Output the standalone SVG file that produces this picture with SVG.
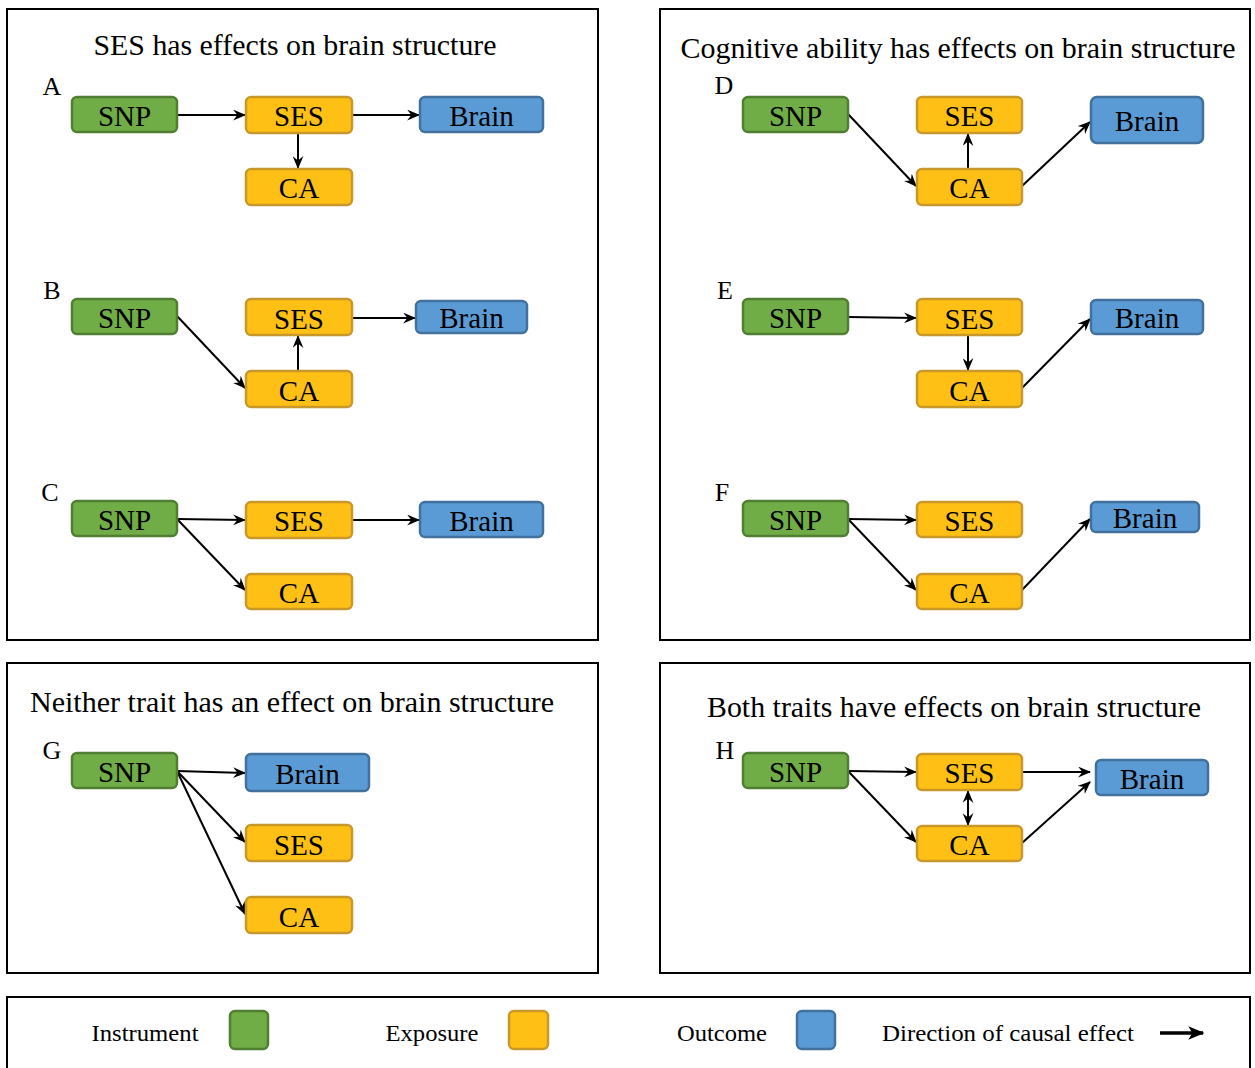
<svg xmlns="http://www.w3.org/2000/svg" width="1255" height="1068" viewBox="0 0 1255 1068">
<style>
text{font-family:"Liberation Serif","Times New Roman",serif;fill:#000}
.panel{fill:#fff;stroke:#000;stroke-width:2}
.n text{font-size:29px;text-anchor:middle;dominant-baseline:central}
.g{fill:#70AD47;stroke:#507E32;stroke-width:2.5}
.y{fill:#FFC015;stroke:#C9982B;stroke-width:2.5}
.b{fill:#5B9BD5;stroke:#41719C;stroke-width:2.5}
.title{font-size:29px;text-anchor:middle}
.lbl{font-size:26px;text-anchor:middle}
.leg{font-size:24px;text-anchor:middle}
.c line{stroke:#000;stroke-width:2;marker-end:url(#ah)}
</style>
<defs>
<marker id="ah" viewBox="0 0 12 10" refX="11" refY="5" markerWidth="13" markerHeight="11" markerUnits="userSpaceOnUse" orient="auto-start-reverse">
<path d="M0,0 L12,5 L0,10 L4,5 Z" fill="#000"/>
</marker>
<marker id="ah2" viewBox="0 0 12 10" refX="11" refY="5" markerWidth="16" markerHeight="15" markerUnits="userSpaceOnUse" orient="auto">
<path d="M0,0 L12,5 L0,10 L3,5 Z" fill="#000"/>
</marker>
</defs>
<rect width="1255" height="1068" fill="#fff"/>
<rect class="panel" x="7" y="9" width="591" height="631"/>
<rect class="panel" x="660" y="9" width="590" height="631"/>
<rect class="panel" x="7" y="663" width="591" height="310"/>
<rect class="panel" x="660" y="663" width="590" height="310"/>
<rect class="panel" x="7" y="997" width="1243" height="80"/>

<text class="title" x="295" y="55" textLength="403" lengthAdjust="spacingAndGlyphs">SES has effects on brain structure</text>
<text class="title" x="958" y="58" textLength="555" lengthAdjust="spacingAndGlyphs">Cognitive ability has effects on brain structure</text>
<text class="title" x="292" y="712" textLength="524" lengthAdjust="spacingAndGlyphs">Neither trait has an effect on brain structure</text>
<text class="title" x="954" y="717" textLength="494" lengthAdjust="spacingAndGlyphs">Both traits have effects on brain structure</text>

<text class="lbl" x="52" y="95">A</text>
<text class="lbl" x="52" y="299">B</text>
<text class="lbl" x="50" y="501">C</text>
<text class="lbl" x="724" y="94">D</text>
<text class="lbl" x="725" y="299">E</text>
<text class="lbl" x="722" y="501">F</text>
<text class="lbl" x="52" y="759">G</text>
<text class="lbl" x="725" y="759">H</text>

<g class="c" id="connectors">
<line x1="177" y1="115" x2="245" y2="115"/>
<line x1="352" y1="115" x2="419" y2="115"/>
<line x1="298" y1="133" x2="298" y2="168"/>
<line x1="177" y1="316" x2="245" y2="388"/>
<line x1="298" y1="371" x2="298" y2="336"/>
<line x1="352" y1="318" x2="415" y2="318"/>
<line x1="177" y1="519" x2="245" y2="520"/>
<line x1="352" y1="520" x2="419" y2="520"/>
<line x1="177" y1="519" x2="245" y2="590"/>
<line x1="848" y1="114" x2="916" y2="186"/>
<line x1="968" y1="169" x2="968" y2="134"/>
<line x1="1022" y1="186" x2="1090" y2="122"/>
<line x1="848" y1="317" x2="916" y2="318"/>
<line x1="968" y1="335" x2="968" y2="370"/>
<line x1="1022" y1="388" x2="1090" y2="319"/>
<line x1="848" y1="519" x2="916" y2="520"/>
<line x1="848" y1="519" x2="916" y2="590"/>
<line x1="1022" y1="590" x2="1090" y2="519"/>
<line x1="177" y1="771" x2="245" y2="773"/>
<line x1="177" y1="771" x2="245" y2="842"/>
<line x1="177" y1="771" x2="245" y2="914"/>
<line x1="848" y1="771" x2="916" y2="772"/>
<line x1="848" y1="771" x2="916" y2="842"/>
<line x1="1022" y1="772" x2="1090" y2="772"/>
<line x1="1022" y1="843" x2="1090" y2="782"/>
<line x1="968" y1="791" x2="968" y2="825" style="marker-start:url(#ah)"/>
<line x1="1160" y1="1033" x2="1203" y2="1033" style="stroke-width:3.5;marker-end:url(#ah2)"/>
</g>

<g class="n" id="A_SNP"><rect class="g" x="72" y="97" width="105" height="35" rx="5"/><text x="124.5" y="116">SNP</text></g>
<g class="n" id="A_SES"><rect class="y" x="246" y="97" width="106" height="36" rx="5"/><text x="299" y="116">SES</text></g>
<g class="n" id="A_Brain"><rect class="b" x="420" y="97" width="123" height="35" rx="5"/><text x="481.5" y="116">Brain</text></g>
<g class="n" id="A_CA"><rect class="y" x="246" y="169" width="106" height="36" rx="5"/><text x="299" y="188">CA</text></g>

<g class="n" id="B_SNP"><rect class="g" x="72" y="299" width="105" height="35" rx="5"/><text x="124.5" y="318">SNP</text></g>
<g class="n" id="B_SES"><rect class="y" x="246" y="299" width="106" height="36" rx="5"/><text x="299" y="319">SES</text></g>
<g class="n" id="B_Brain"><rect class="b" x="416" y="301" width="111" height="32" rx="5"/><text x="471.5" y="318">Brain</text></g>
<g class="n" id="B_CA"><rect class="y" x="246" y="371" width="106" height="36" rx="5"/><text x="299" y="391">CA</text></g>

<g class="n" id="C_SNP"><rect class="g" x="72" y="501" width="105" height="35" rx="5"/><text x="124.5" y="520">SNP</text></g>
<g class="n" id="C_SES"><rect class="y" x="246" y="502" width="106" height="36" rx="5"/><text x="299" y="521">SES</text></g>
<g class="n" id="C_Brain"><rect class="b" x="420" y="502" width="123" height="35" rx="5"/><text x="481.5" y="521">Brain</text></g>
<g class="n" id="C_CA"><rect class="y" x="246" y="574" width="106" height="35" rx="5"/><text x="299" y="593">CA</text></g>

<g class="n" id="D_SNP"><rect class="g" x="743" y="97" width="105" height="35" rx="5"/><text x="795.5" y="116">SNP</text></g>
<g class="n" id="D_SES"><rect class="y" x="917" y="97" width="105" height="36" rx="5"/><text x="969.5" y="116">SES</text></g>
<g class="n" id="D_Brain"><rect class="b" x="1091" y="97" width="112" height="46" rx="6"/><text x="1147" y="121">Brain</text></g>
<g class="n" id="D_CA"><rect class="y" x="917" y="169" width="105" height="36" rx="5"/><text x="969.5" y="188">CA</text></g>

<g class="n" id="E_SNP"><rect class="g" x="743" y="299" width="105" height="35" rx="5"/><text x="795.5" y="318">SNP</text></g>
<g class="n" id="E_SES"><rect class="y" x="917" y="299" width="105" height="36" rx="5"/><text x="969.5" y="319">SES</text></g>
<g class="n" id="E_Brain"><rect class="b" x="1091" y="300" width="112" height="34" rx="5"/><text x="1147" y="318">Brain</text></g>
<g class="n" id="E_CA"><rect class="y" x="917" y="371" width="105" height="36" rx="5"/><text x="969.5" y="391">CA</text></g>

<g class="n" id="F_SNP"><rect class="g" x="743" y="501" width="105" height="35" rx="5"/><text x="795.5" y="520">SNP</text></g>
<g class="n" id="F_SES"><rect class="y" x="917" y="502" width="105" height="35" rx="5"/><text x="969.5" y="521">SES</text></g>
<g class="n" id="F_Brain"><rect class="b" x="1091" y="502" width="108" height="30" rx="5"/><text x="1145" y="518">Brain</text></g>
<g class="n" id="F_CA"><rect class="y" x="917" y="574" width="105" height="35" rx="5"/><text x="969.5" y="593">CA</text></g>

<g class="n" id="G_SNP"><rect class="g" x="72" y="753" width="105" height="35" rx="5"/><text x="124.5" y="772">SNP</text></g>
<g class="n" id="G_Brain"><rect class="b" x="246" y="754" width="123" height="37" rx="5"/><text x="307.5" y="774">Brain</text></g>
<g class="n" id="G_SES"><rect class="y" x="246" y="825" width="106" height="36" rx="5"/><text x="299" y="845">SES</text></g>
<g class="n" id="G_CA"><rect class="y" x="246" y="897" width="106" height="36" rx="5"/><text x="299" y="917">CA</text></g>

<g class="n" id="H_SNP"><rect class="g" x="743" y="753" width="105" height="35" rx="5"/><text x="795.5" y="772">SNP</text></g>
<g class="n" id="H_SES"><rect class="y" x="917" y="754" width="105" height="36" rx="5"/><text x="969.5" y="773">SES</text></g>
<g class="n" id="H_Brain"><rect class="b" x="1096" y="760" width="112" height="35" rx="5"/><text x="1152" y="779">Brain</text></g>
<g class="n" id="H_CA"><rect class="y" x="917" y="826" width="105" height="35" rx="5"/><text x="969.5" y="845">CA</text></g>

<g id="legend">
<text class="leg" x="145" y="1041" textLength="107" lengthAdjust="spacingAndGlyphs">Instrument</text>
<rect class="g" x="230" y="1011" width="38" height="38" rx="5"/>
<text class="leg" x="432" y="1041" textLength="93" lengthAdjust="spacingAndGlyphs">Exposure</text>
<rect class="y" x="509" y="1011" width="39" height="38" rx="5"/>
<text class="leg" x="722" y="1041" textLength="90" lengthAdjust="spacingAndGlyphs">Outcome</text>
<rect class="b" x="797" y="1011" width="38" height="38" rx="5"/>
<text class="leg" x="1008" y="1041" textLength="252" lengthAdjust="spacingAndGlyphs">Direction of causal effect</text>
</g>
</svg>
